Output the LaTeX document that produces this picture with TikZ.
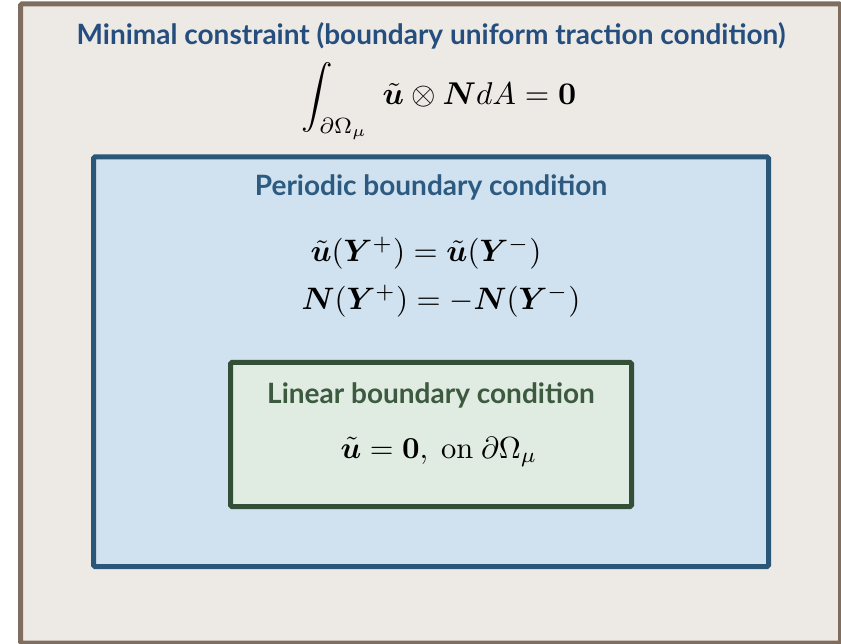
\documentclass[tikz,border=0pt]{standalone}
\usepackage{amsmath,bm}
\usepackage[no-math]{fontspec}
\setmainfont{Lato}
\definecolor{outerbd}{HTML}{7F6E60}
\definecolor{outerbg}{HTML}{EDEAE6}
\definecolor{titleblue}{HTML}{254E7E}
\definecolor{bluebd}{HTML}{2A5677}
\definecolor{bluebg}{HTML}{D0E2F0}
\definecolor{perblue}{HTML}{2C5A80}
\definecolor{greenbd}{HTML}{344F38}
\definecolor{greenbg}{HTML}{E0EBE1}
\definecolor{greentxt}{HTML}{3B5A3F}
\tikzset{
  frame/.style={line width=5pt, rounded corners=1.5pt},
  heading/.style={font=\fontsize{28}{32}\selectfont\bfseries, inner sep=0pt},
  formula/.style={scale=3.1, inner sep=0pt},
}
\begin{document}
\begin{tikzpicture}[x=1pt,y=-1pt]
\useasboundingbox (0,0) rectangle (841,644);
\begin{scope}
\clip (0,0) rectangle (841,644);
\draw[frame, draw=outerbd, fill=outerbg] (20.5,4) rectangle (840.5,643);
\end{scope}
\draw[frame, draw=bluebd, fill=bluebg] (93.5,157) rectangle (768.5,566.5);
\draw[frame, draw=greenbd, fill=greenbg] (230.5,362.5) rectangle (631.5,506.5);
\node[heading, text=titleblue] (title) at (431,36) {Minimal constraint (boundary uniform traction condition)};
\node[formula, scale=3.15/3.1] (integral) at (439,101) {$\displaystyle\int_{\partial\Omega_\mu}\;\tilde{\bm u}\otimes\bm N dA=\mathbf 0$};
\node[heading, text=perblue] (ptitle) at (431,187) {Periodic boundary condition};
\node[formula] (eqa) at (426,253) {$\tilde{\bm u}(\bm Y^{+})=\tilde{\bm u}(\bm Y^{-})$};
\node[formula] (eqb) at (441,301) {$\bm N(\bm Y^{+})=-\bm N(\bm Y^{-})$};
\node[heading, text=greentxt] (ltitle) at (431,395) {Linear boundary condition};
\node[formula, scale=3.05/3.1] (eqc) at (439,452) {$\tilde{\bm u}=\mathbf 0,\ \mathrm{on}\ \partial\Omega_\mu$};
\end{tikzpicture}
\end{document}
